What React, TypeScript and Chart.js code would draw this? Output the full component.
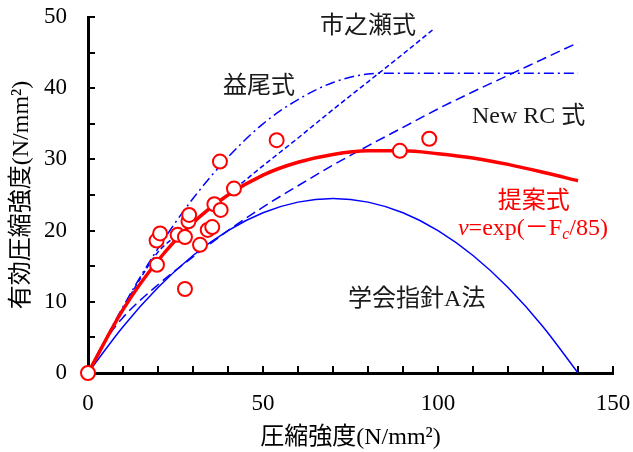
import React, { useEffect, useRef } from 'react';
import { Chart, registerables } from 'chart.js';

Chart.register(...registerables);

// ---- data ----
// measured points: compressive strength Fc vs effective strength
const testFc = [0, 19.6, 19.7, 20.6, 25.6, 27.7, 27.7, 28.7, 28.9, 32.0, 34.2, 35.5, 36.1, 37.7, 37.9, 41.7, 53.9, 89.1, 97.5];
const testEff = [0, 18.6, 15.2, 19.6, 19.4, 19.1, 11.8, 21.3, 22.2, 18.0, 20.1, 20.5, 23.7, 29.7, 22.9, 25.9, 32.7, 31.2, 32.9];

// 提案式 ν=exp(-Fc/85)
const proposedFc = [0, 10, 20, 30, 40, 50, 60, 70, 80, 90, 100, 110, 120, 130, 140];
const proposedEff = [0, 8.9, 15.8, 21.1, 25.0, 27.8, 29.6, 30.7, 31.2, 31.2, 30.8, 30.2, 29.3, 28.2, 27.0];

// 学会指針A法
const aijFc = [0, 10, 20, 30, 40, 50, 60, 70, 80, 90, 100, 110, 120, 130, 140];
const aijEff = [0, 6.5, 12.0, 16.5, 20.0, 22.5, 24.0, 24.5, 24.0, 22.5, 20.0, 16.5, 12.0, 6.5, 0];

// New RC 式
const newRcFc = [0, 5, 10, 20, 30, 40, 50, 60, 70, 80, 90, 100, 110, 120, 130, 140];
const newRcEff = [0, 4.6, 7.8, 12.4, 16.3, 20.0, 23.3, 26.3, 29.2, 31.9, 34.5, 37.1, 39.5, 41.8, 44.1, 46.4];

// 益尾式
const masuoFc = [0, 10, 20, 30, 40, 50, 60, 70, 80, 85, 140];
const masuoEff = [0, 9.3, 17.5, 24.5, 30.3, 35.0, 38.4, 40.8, 42.0, 42.1, 42.1];

// 市之瀬式
const ichinoseFc = [0, 5, 10, 15, 20, 25, 30, 40, 50, 60, 70, 80, 90, 98.5];
const ichinoseEff = [0, 4.7, 9.1, 13.3, 17.0, 19.2, 21.2, 25.1, 29.1, 33.0, 37.0, 40.9, 44.8, 48.2];

// axis ticks
const xTickMarks = [0, 10, 20, 30, 40, 50, 60, 70, 80, 90, 100, 110, 120, 130, 140, 150];
const yTickMarks = [0, 5, 10, 15, 20, 25, 30, 35, 40, 45, 50];

const xTitle = '圧縮強度(N/mm²)';
const yTitle = '有効圧縮強度(N/mm²)';

const SERIF = "'Liberation Serif', 'Times New Roman', 'Noto Sans CJK JP', serif";

const pts = (xs: number[], ys: number[]) => xs.map((x, i) => ({ x, y: ys[i] }));

const tickPlugin = {
  id: 'innerTicks',
  beforeDatasetsDraw(chart: any) {
    const { ctx, chartArea, scales } = chart;
    ctx.save();
    ctx.strokeStyle = '#000';
    ctx.lineWidth = 2;
    ctx.beginPath();
    xTickMarks.forEach((v) => {
      const px = Math.round(scales.x.getPixelForValue(v));
      ctx.moveTo(px, chartArea.bottom);
      ctx.lineTo(px, chartArea.bottom - 7);
    });
    yTickMarks.forEach((v) => {
      const py = Math.round(scales.y.getPixelForValue(v));
      ctx.moveTo(chartArea.left, py);
      ctx.lineTo(chartArea.left + 7, py);
    });
    ctx.stroke();
    ctx.restore();
  },
};

const labelPlugin = {
  id: 'curveLabels',
  afterDatasetsDraw(chart: any) {
    const { ctx, scales } = chart;
    const X = (v: number) => scales.x.getPixelForValue(v);
    const Y = (v: number) => scales.y.getPixelForValue(v);
    ctx.save();
    ctx.textBaseline = 'middle';
    ctx.textAlign = 'left';
    const plain = (t: string, x: number, y: number, color: string) => {
      ctx.font = `24px ${SERIF}`;
      ctx.fillStyle = color;
      ctx.fillText(t, X(x), Y(y));
    };
    plain('市之瀬式', 66.3, 48.7, '#1a1a1a');
    plain('益尾式', 38.6, 40.2, '#1a1a1a');
    plain('New RC 式', 109.7, 36.0, '#1a1a1a');
    plain('学会指針A法', 74.3, 10.25, '#1a1a1a');
    plain('提案式', 117.1, 24.0, '#ff0000');

    // ν=exp(−Fc/85)
    const segs = [
      { t: 'ν', f: `italic 24px ${SERIF}`, dy: 0 },
      { t: '=exp(', f: `24px ${SERIF}`, dy: 0 },
      { t: '－', f: `24px ${SERIF}`, dy: 0 },
      { t: 'F', f: `24px ${SERIF}`, dy: 0 },
      { t: 'c', f: `italic 16px ${SERIF}`, dy: 6 },
      { t: '/85)', f: `24px ${SERIF}`, dy: 0 },
    ];
    let cx = X(105.7);
    const cy = Y(20.2);
    ctx.fillStyle = '#ff0000';
    segs.forEach((s) => {
      ctx.font = s.f;
      ctx.fillText(s.t, cx, cy + s.dy);
      cx += ctx.measureText(s.t).width;
    });
    ctx.restore();
  },
};

export default function App() {
  const ref = useRef<HTMLCanvasElement>(null);

  useEffect(() => {
    document.body.style.margin = '0';
    const blue = '#0000ff';
    const lineBase = { showLine: true, pointRadius: 0, pointHoverRadius: 0, fill: false, cubicInterpolationMode: 'monotone' as const };
    const chart = new Chart(ref.current as HTMLCanvasElement, {
      type: 'scatter',
      data: {
        datasets: [
          {
            label: '実験値',
            data: pts(testFc, testEff),
            pointRadius: 7,
            pointBorderWidth: 2,
            pointBorderColor: '#ff0000',
            pointBackgroundColor: '#ffffff',
            showLine: false,
            clip: false,
          } as any,
          { ...lineBase, label: '提案式', data: pts(proposedFc, proposedEff), borderColor: '#ff0000', borderWidth: 3.5 },
          { ...lineBase, label: '学会指針A法', data: pts(aijFc, aijEff), borderColor: blue, borderWidth: 1.5 },
          { ...lineBase, label: 'New RC 式', data: pts(newRcFc, newRcEff), borderColor: blue, borderWidth: 1.5, borderDash: [10, 5] },
          { ...lineBase, label: '益尾式', data: pts(masuoFc, masuoEff), borderColor: blue, borderWidth: 1.5, borderDash: [10, 4, 2, 4] },
          { ...lineBase, label: '市之瀬式', data: pts(ichinoseFc, ichinoseEff), borderColor: blue, borderWidth: 1.5, borderDash: [5, 3] },
        ],
      },
      options: {
        responsive: false,
        animation: false,
        devicePixelRatio: 1,
        layout: { padding: { left: 0, right: 20, top: 17, bottom: 0 } },
        plugins: { legend: { display: false }, tooltip: { enabled: false }, title: { display: false } },
        scales: {
          x: {
            type: 'linear',
            min: 0,
            max: 150,
            afterFit: (s: any) => { s.height = 79; s.paddingLeft = 0; s.paddingRight = 0; },
            grid: { display: false, drawTicks: false },
            border: { display: true, color: '#000', width: 3 },
            ticks: { stepSize: 50, padding: 17, color: '#000', font: { family: SERIF, size: 23 }, maxRotation: 0 },
            title: { display: true, text: xTitle, color: '#000', font: { family: SERIF, size: 24 }, padding: { top: 0, bottom: 0 } },
          },
          y: {
            type: 'linear',
            min: 0,
            max: 50,
            afterFit: (s: any) => { s.width = 88; s.paddingTop = 0; s.paddingBottom = 0; },
            grid: { display: false, drawTicks: false },
            border: { display: true, color: '#000', width: 3 },
            ticks: { stepSize: 10, padding: 21, color: '#000', font: { family: SERIF, size: 23 } },
            title: { display: true, text: yTitle, color: '#000', font: { family: SERIF, size: 24 }, padding: { top: 7, bottom: 0 } },
          },
        },
      },
      plugins: [tickPlugin, labelPlugin],
    });
    return () => chart.destroy();
  }, []);

  return (
    <div style={{ position: 'absolute', left: 0, top: 0, width: 633, height: 452, background: '#fff' }}>
      <canvas ref={ref} width={633} height={452} style={{ display: 'block' }} />
    </div>
  );
}
